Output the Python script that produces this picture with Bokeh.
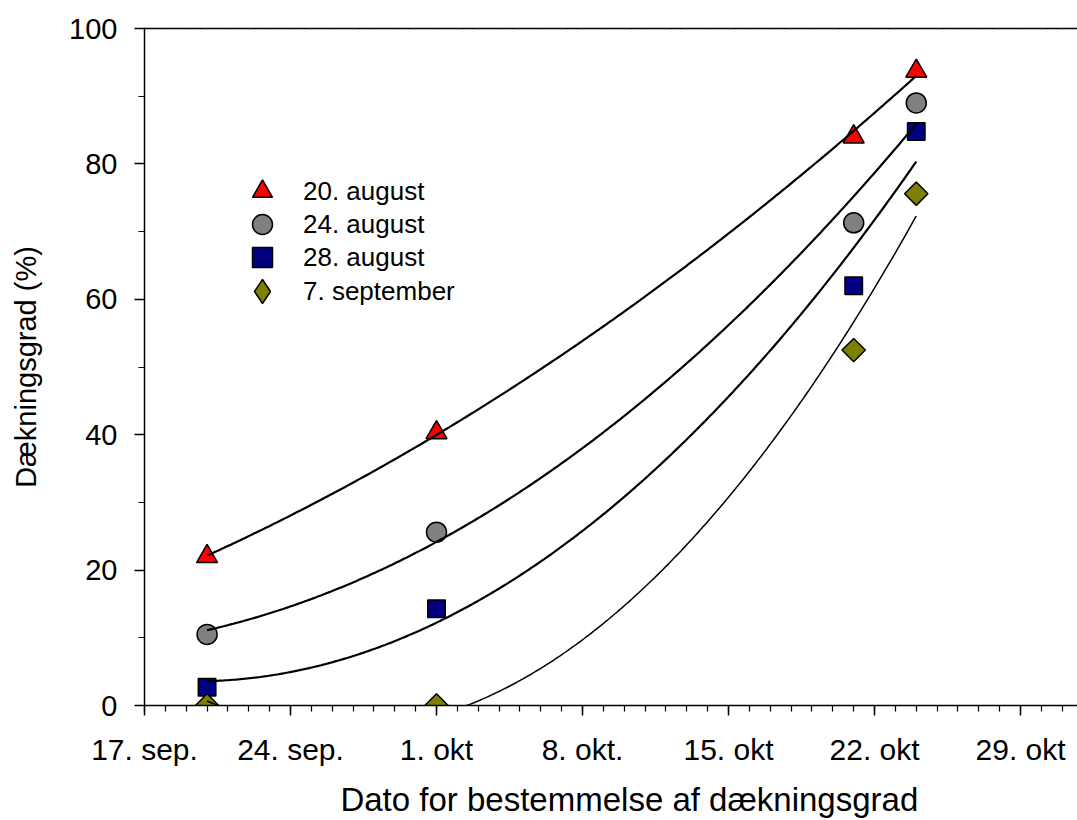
import numpy as np
import pandas as pd
from bokeh.plotting import figure
from bokeh.models import (Range1d, FixedTicker, LinearAxis, Legend, LegendItem,
                          ColumnDataSource)
from bokeh.embed import file_html
from bokeh.resources import INLINE

# ---- data -------------------------------------------------------------
origin = "2010-09-17"
measure_dates = ["2010-09-20", "2010-10-01", "2010-10-21", "2010-10-24"]
series_names = ["20. august", "24. august", "28. august", "7. september"]
aug20 = [22.0, 40.3, 84.0, 93.7]
aug24 = [10.5, 25.6, 71.3, 89.0]
aug28 = [2.7, 14.3, 62.0, 84.8]
sep07 = [0.0, 0.0, 52.5, 75.6]
tick_labels = ["17. sep.", "24. sep.", "1. okt", "8. okt.", "15. okt", "22. okt", "29. okt"]
tick_dates = ["2010-09-17", "2010-09-24", "2010-10-01", "2010-10-08",
              "2010-10-15", "2010-10-22", "2010-10-29"]
x_end_date = "2010-11-01"

o = pd.Timestamp(origin)
days = [(pd.Timestamp(d) - o).days for d in measure_dates]
tick_days = [(pd.Timestamp(d) - o).days for d in tick_dates]
x_end = (pd.Timestamp(x_end_date) - o).days - 0.27

FONT = "Liberation Sans"

p = figure(width=1077, height=820, output_backend="svg", toolbar_location=None,
           x_range=Range1d(0, x_end), y_range=Range1d(0, 100),
           min_border_left=144, min_border_top=28, min_border_right=0,
           min_border_bottom=114)
p.outline_line_color = None
p.xgrid.visible = False
p.ygrid.visible = False
p.background_fill_color = "white"

# x axis
xa = p.xaxis[0]
xa.ticker = FixedTicker(ticks=tick_days, minor_ticks=list(range(0, int(x_end) + 1)))
xa.major_label_overrides = {d: lab for d, lab in zip(tick_days, tick_labels)}
# the original frame continues past the right edge, so its centred title sits right of centre
xa.axis_label = "\u00a0\u00a0\u00a0\u00a0Dato for bestemmelse af dækningsgrad"
# y axis
ya = p.yaxis[0]
ya.ticker = FixedTicker(ticks=[0, 20, 40, 60, 80, 100], minor_ticks=list(range(0, 101, 10)))
ya.axis_label = "Dækningsgrad (%)"

for ax in (xa, ya):
    ax.axis_line_color = "black"
    ax.axis_line_width = 1.5
    ax.major_tick_line_color = "black"
    ax.minor_tick_line_color = "black"
    ax.major_tick_line_width = 1.5
    ax.minor_tick_line_width = 1.2
    ax.major_tick_in = 0
    ax.major_tick_out = 10
    ax.minor_tick_in = 0
    ax.minor_tick_out = 6
    ax.major_label_text_font = FONT
    ax.major_label_text_color = "black"
    ax.axis_label_text_font = FONT
    ax.axis_label_text_font_style = "normal"
    ax.axis_label_text_color = "black"
xa.major_label_text_font_size = "30px"
ya.major_label_text_font_size = "29px"
xa.axis_label_text_font_size = "33px"
ya.axis_label_text_font_size = "29px"
xa.major_label_standoff = 17
xa.axis_label_standoff = 12
ya.major_label_standoff = 17
ya.axis_label_standoff = 24

# top frame line
top = LinearAxis(ticker=FixedTicker(ticks=[], minor_ticks=list(range(0, int(x_end) + 1))),
                 major_label_text_font_size="0px", axis_line_color="black",
                 axis_line_width=1.5, major_tick_in=0, major_tick_out=0,
                 minor_tick_in=1, minor_tick_out=1, minor_tick_line_color="#555555")
p.add_layout(top, "above")

# ---- markers --------------------------------------------------------
styles = [
    dict(marker="triangle", size=21, fill_color="#FF0000", angle=0.0),
    dict(marker="circle", size=20, fill_color="#808080", angle=0.0),
    dict(marker="square", size=17.5, fill_color="#000080", angle=0.0),
    dict(marker="square", size=16.5, fill_color="#808000", angle=np.pi / 4),
]
all_vals = [aug20, aug24, aug28, sep07]
line_widths = [2.2, 2.2, 2.2, 1.5]

legend_renderers = []
for name, vals, st in zip(series_names, all_vals, styles):
    src = ColumnDataSource(dict(x=days, y=vals))
    r = p.scatter("x", "y", source=src, marker=st["marker"], size=st["size"],
                  fill_color=st["fill_color"], line_color="black", line_width=1.5,
                  angle=st["angle"])
    legend_renderers.append(r)

# legend key for the diamond series (legend keys ignore marker rotation)
dsrc = ColumnDataSource(dict(x=days, y=sep07))
rd = p.scatter("x", "y", source=dsrc, marker="diamond", size=24,
               fill_color="#808000", line_color="black", line_width=1.5, visible=False)
legend_renderers[3] = rd

# fitted (quadratic regression) curves, drawn over the markers
for vals, lw in zip(all_vals, line_widths):
    coef = np.polyfit(days, vals, 2)
    xs = np.linspace(days[0], days[-1], 300)
    ys = np.polyval(coef, xs)
    p.line(xs, ys, line_color="black", line_width=lw)

# one legend per entry so the rows can sit closer than the key boxes
legend_boxes = [50, 50, 50, 60]
legend_locs = [(93, 489), (93, 456), (93, 423), (88, 384)]
legend_standoffs = [16, 16, 16, 11]
for name, r, gb, loc, so in zip(series_names, legend_renderers, legend_boxes,
                                legend_locs, legend_standoffs):
    lg = Legend(items=[LegendItem(label=name, renderers=[r])], location=loc,
                glyph_width=gb, glyph_height=gb, padding=0, margin=0,
                label_standoff=so, border_line_color=None,
                background_fill_alpha=0, label_text_font=FONT,
                label_text_font_size="26px", label_text_color="black")
    p.add_layout(lg)

open("out.html", "w").write(file_html(p, INLINE))
